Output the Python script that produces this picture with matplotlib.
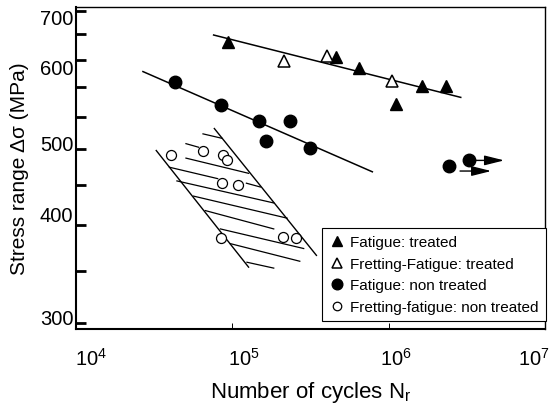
import numpy as np
import matplotlib.pyplot as plt
from matplotlib.transforms import ScaledTranslation

plt.rcParams['font.family'] = ['Liberation Sans', 'DejaVu Sans']
plt.rcParams['mathtext.fontset'] = 'custom'
plt.rcParams['mathtext.rm'] = 'Liberation Sans'
plt.rcParams['mathtext.it'] = 'Liberation Sans:italic'
plt.rcParams['mathtext.default'] = 'regular'

# Fatigue: treated
ft_N = [9.4e4, 4.57e5, 6.46e5, 1.63e6, 2.32e6, 1.11e6]
ft_S = [636, 607, 591, 571, 571, 551]
# Fretting-Fatigue: treated
fft_N = [2.13e5, 4.05e5, 1.045e6]
fft_S = [599, 609, 576]
# Fatigue: non treated
fn_N = [4.31e4, 8.47e4, 1.49e5, 2.33e5, 1.63e5, 3.12e5, 2.44e6, 3.24e6]
fn_S = [575, 549, 532, 532, 509, 501, 477, 485]
# Fretting-fatigue: non treated
ffn_N = [4.06e4, 6.49e4, 8.71e4, 9.24e4, 8.63e4, 1.08e5, 8.41e4, 2.11e5, 2.54e5]
ffn_S = [492, 497, 492, 485, 455, 452, 387, 388, 387]

# trend lines
treated_line_N = [7.59e4, 2.89e6]
treated_line_S = [651, 558]
non_treated_line_N = [2.68e4, 7.86e5]
non_treated_line_S = [587, 470]

# run-outs (arrows)
runout_N0 = [3.52e6, 2.86e6]
runout_N1 = [5.48e6, 4.53e6]
runout_S = [485, 471]

# scatter band of fretting-fatigue, with its hatching
band_left_N = [3.26e4, 1.27e5]
band_left_S = [498, 357]
band_right_N = [7.67e4, 3.45e5]
band_right_S = [523, 369]
hatch_N0 = [6.49e4, 5.05e4, 5.05e4, 3.96e4, 1.23e5, 4.42e4, 5.65e4, 6.71e4, 8.38e4, 9.70e4, 1.24e5]
hatch_S0 = [517, 506, 488, 476, 455, 458, 438, 419, 396, 381, 362]
hatch_N1 = [8.59e4, 6.08e4, 1.27e5, 8.06e4, 1.51e5, 1.84e5, 2.24e5, 1.84e5, 2.86e5, 2.70e5, 1.84e5]
hatch_S1 = [512, 502, 468, 461, 450, 429, 409, 396, 376, 363, 356]

# y axis of the original is not uniform: labelled ticks and where they sit
y_labels = [300, 400, 500, 600, 700]
y_label_pos = [6, 104, 180, 269, 318]
y_other_ticks = [353, 453, 536, 570, 653]

x_ticks = [1e4, 1e5, 1e6, 1e7]
x_ticklabels = ['$10^{4}$', '$10^{5}$', '$10^{6}$', '$10^{7}$']

# extend the mapping linearly past the end ticks
lo_slope = (y_label_pos[1] - y_label_pos[0]) / (y_labels[1] - y_labels[0])
hi_slope = (y_label_pos[-1] - y_label_pos[-2]) / (y_labels[-1] - y_labels[-2])
anchor_val = np.array([200] + y_labels + [800], dtype=float)
anchor_pos = np.array([y_label_pos[0] - 100 * lo_slope] + y_label_pos +
                      [y_label_pos[-1] + 100 * hi_slope], dtype=float)


def fwd(v):
    return np.interp(v, anchor_val, anchor_pos)


def inv(p):
    return np.interp(p, anchor_pos, anchor_val)


fig = plt.figure(figsize=(5.54, 4.06), dpi=100)
fig.subplots_adjust(left=0.1372, right=0.9838, bottom=0.1872, top=0.9803)
ax = fig.gca()

ax.set_xscale('log')
ax.set_yscale('function', functions=(fwd, inv))
ax.set_xlim(1e4, 1e7)
ax.set_ylim(inv(0), inv(322))

# lines
ax.plot(treated_line_N, treated_line_S, color='black', lw=1.1, zorder=2)
ax.plot(non_treated_line_N, non_treated_line_S, color='black', lw=1.1, zorder=2)
ax.plot(band_left_N, band_left_S, color='black', lw=1.0, zorder=2)
ax.plot(band_right_N, band_right_S, color='black', lw=1.0, zorder=2)
for n0, s0, n1, s1 in zip(hatch_N0, hatch_S0, hatch_N1, hatch_S1):
    ax.plot([n0, n1], [s0, s1], color='black', lw=0.9, zorder=2)

for n0, n1, s in zip(runout_N0, runout_N1, runout_S):
    ax.annotate('', xy=(n1, s), xytext=(n0, s),
                arrowprops=dict(arrowstyle='-|>,head_length=1.0,head_width=0.25',
                                color='black', lw=1.0, mutation_scale=12,
                                shrinkA=0, shrinkB=0), zorder=3)

# markers
ax.plot(ft_N, ft_S, ls='none', marker='^', ms=8.5, color='black',
        label='Fatigue: treated', zorder=4)
ax.plot(fft_N, fft_S, ls='none', marker='^', ms=8.5, mfc='white', mec='black', mew=1.1,
        label='Fretting-Fatigue: treated', zorder=4)
ax.plot(fn_N, fn_S, ls='none', marker='o', ms=9, color='black',
        label='Fatigue: non treated', zorder=4)
ax.plot(ffn_N, ffn_S, ls='none', marker='o', ms=7.2, mfc='white', mec='black', mew=0.9,
        label='Fretting-fatigue: non treated', zorder=4)

# ticks
y_ticks = sorted(y_labels + y_other_ticks)
ax.set_yticks(y_ticks)
ax.set_yticklabels([str(v) if v in y_labels else '' for v in y_ticks])
ax.yaxis.set_minor_locator(plt.NullLocator())
ax.set_xticks(x_ticks)
ax.set_xticklabels(x_ticklabels)
ax.xaxis.set_minor_locator(plt.NullLocator())
ax.tick_params(axis='y', direction='in', length=7.5, width=2, labelsize=14.5, pad=2)
ax.tick_params(axis='x', direction='in', length=4, width=0.7, labelsize=14.5, pad=13)

# the original tick labels sit a little off their ticks
x_shift = [11, 8, 5, -8]
for lab, dx in zip(ax.get_xticklabels(), x_shift):
    lab.set_transform(lab.get_transform() + ScaledTranslation(dx / 72, 0, fig.dpi_scale_trans))
y_shift = {700: -4, 600: -5, 500: 5, 400: 8, 300: 5}
for v, lab in zip(y_ticks, ax.get_yticklabels()):
    if v in y_shift:
        lab.set_transform(lab.get_transform() + ScaledTranslation(0, y_shift[v] / 72, fig.dpi_scale_trans))

for side in ['left', 'bottom']:
    ax.spines[side].set_linewidth(1.5)
for side in ['top', 'right']:
    ax.spines[side].set_linewidth(1.0)

ax.set_xlabel('Number of cycles N$_{r}$', fontsize=16)
ax.set_ylabel('Stress range Δσ (MPa)', fontsize=15)
ax.xaxis.set_label_coords(0.5, -0.155)
ax.yaxis.set_label_coords(-0.10, 0.5)

leg = ax.legend(loc='lower left', bbox_to_anchor=(0.5245, 0.0248), borderaxespad=0,
                fancybox=False, edgecolor='black', framealpha=1, fontsize=11,
                handlelength=1.0, handletextpad=0.4, borderpad=0.45,
                labelspacing=0.5, markerscale=0.85)
leg.get_frame().set_linewidth(0.8)

fig.savefig('out.png', dpi=100)
